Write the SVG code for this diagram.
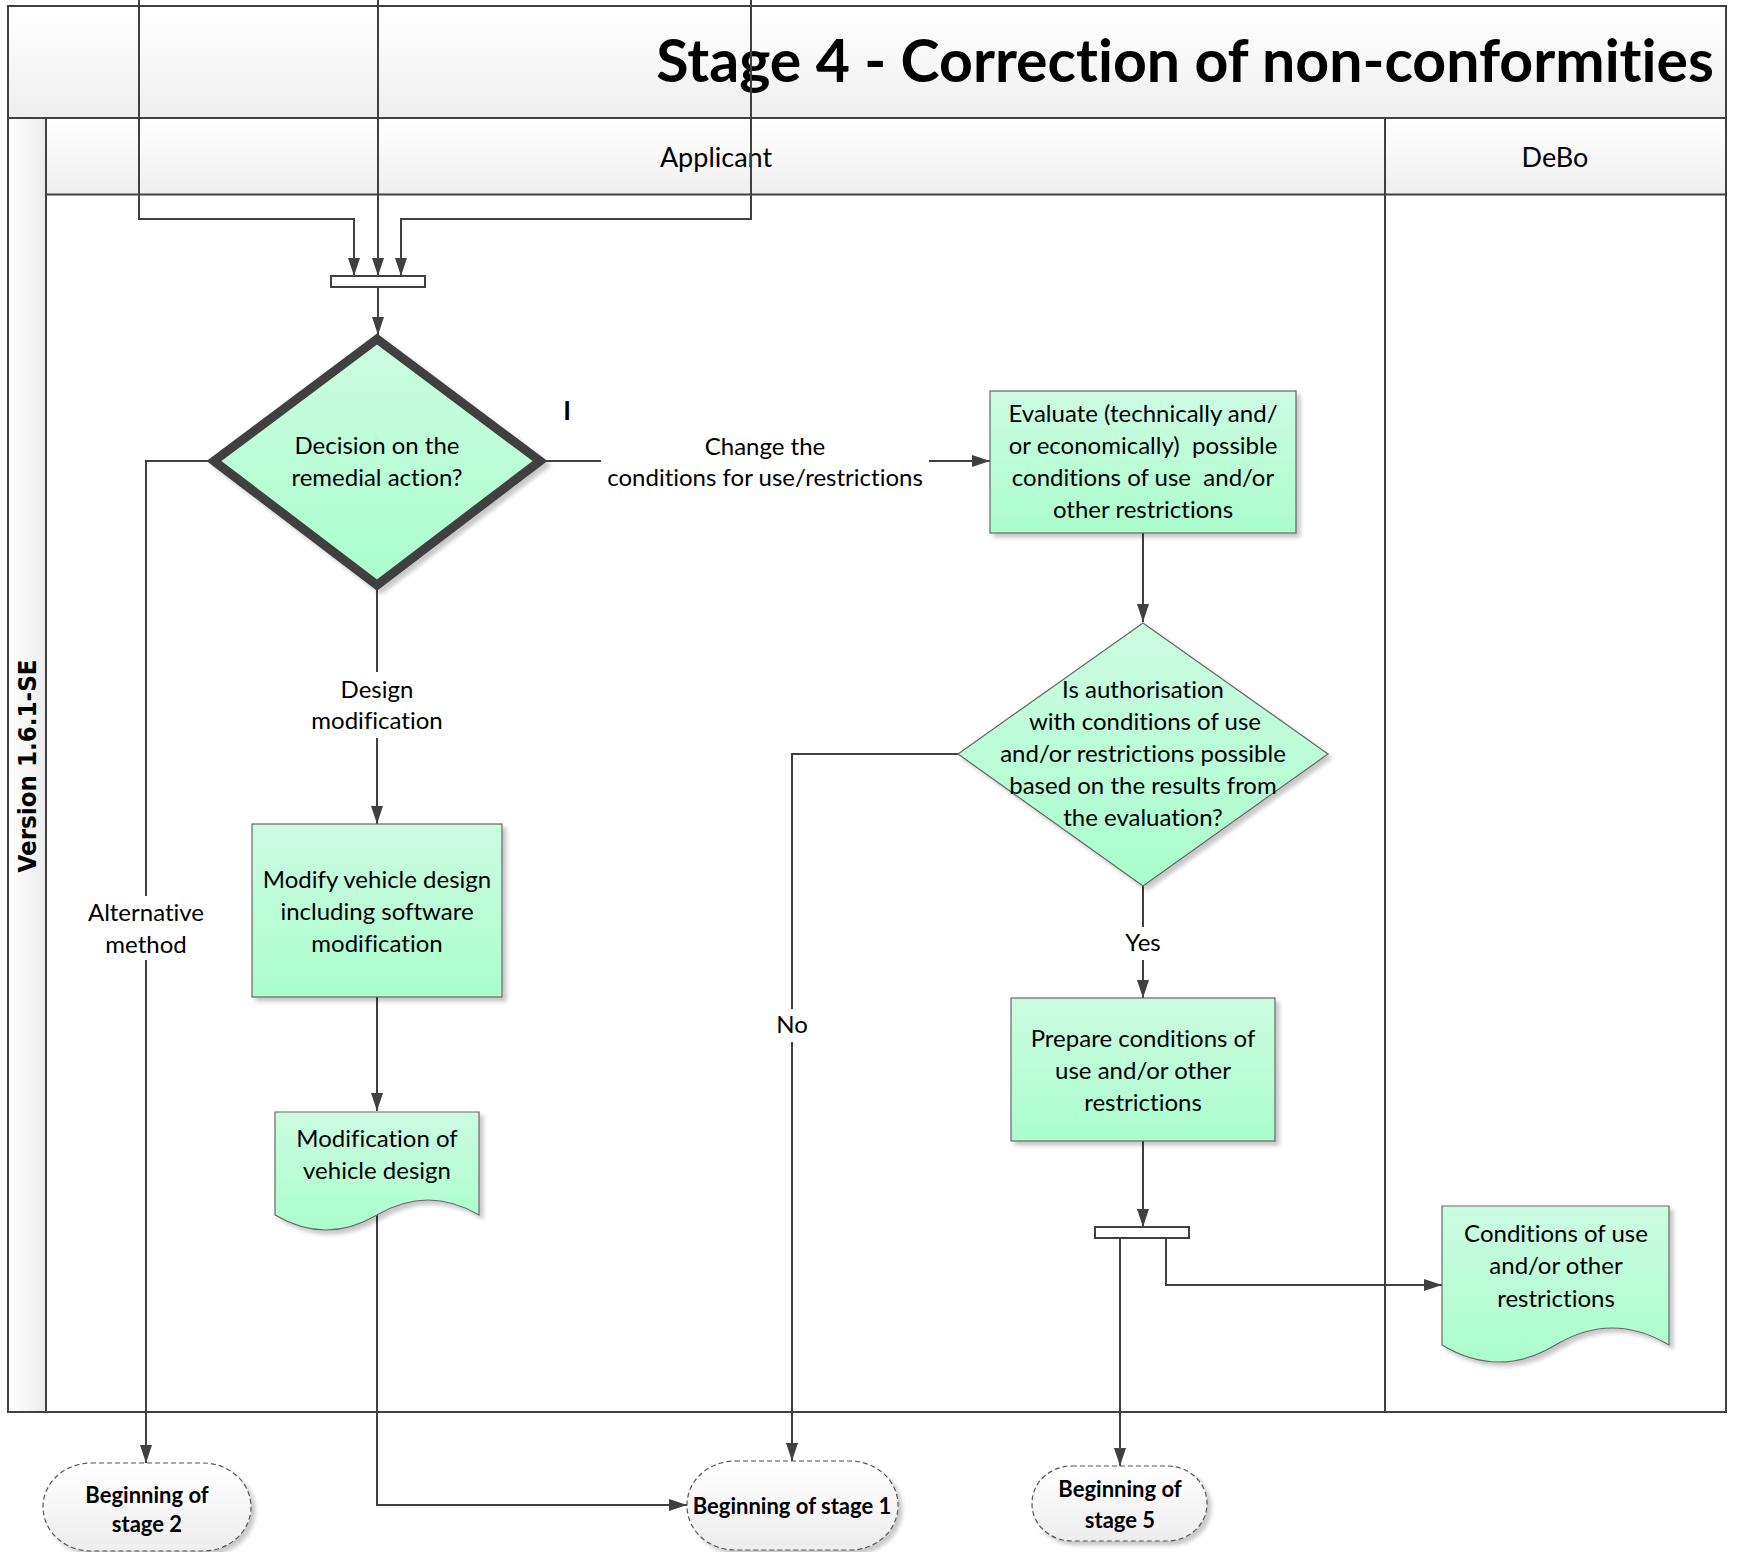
<svg xmlns="http://www.w3.org/2000/svg" width="1737" height="1552" viewBox="0 0 1737 1552">
<defs>
<linearGradient id="gBand" x1="0" y1="0" x2="0" y2="1"><stop offset="0" stop-color="#ffffff"/><stop offset="1" stop-color="#efefef"/></linearGradient>
<linearGradient id="gSide" x1="0" y1="0" x2="1" y2="0"><stop offset="0" stop-color="#ffffff"/><stop offset="1" stop-color="#ececec"/></linearGradient>
<linearGradient id="gGreen" x1="0" y1="0" x2="0" y2="1"><stop offset="0" stop-color="#ccfbe2"/><stop offset="1" stop-color="#aafdcd"/></linearGradient>
<linearGradient id="gTerm" x1="0" y1="0" x2="0" y2="1"><stop offset="0" stop-color="#ffffff"/><stop offset="1" stop-color="#ededed"/></linearGradient>
<filter id="sh" x="-10%" y="-10%" width="125%" height="125%"><feGaussianBlur in="SourceAlpha" stdDeviation="2"/><feOffset dx="4" dy="4" result="b"/><feComponentTransfer><feFuncA type="linear" slope="0.22"/></feComponentTransfer><feMerge><feMergeNode/><feMergeNode in="SourceGraphic"/></feMerge></filter>
<marker id="ah" viewBox="0 0 18 12" refX="18" refY="6" markerWidth="18" markerHeight="12" orient="auto" markerUnits="userSpaceOnUse"><path d="M0,0 L18,6 L0,12 z" fill="#404040"/></marker>
</defs>
<style>
.lane{fill:none;stroke:#404040;stroke-width:2}
.box{fill:url(#gGreen);stroke:#666;stroke-width:1.2}
.term{fill:url(#gTerm);stroke:#555;stroke-width:1.2;stroke-dasharray:5 3}
.bar{fill:#fff;stroke:#404040;stroke-width:2}
.c{fill:none;stroke:#404040;stroke-width:2}
.a{marker-end:url(#ah)}
text{font-family:Lato,"Open Sans","DejaVu Sans",sans-serif;fill:#000;font-variant-ligatures:none;font-feature-settings:"liga" 0,"dlig" 0;white-space:pre}
.t{font-size:24px;text-anchor:middle}
.tb{font-size:22px;font-weight:bold;text-anchor:middle}
.hd{font-size:27px;text-anchor:middle}
</style>
<rect width="1737" height="1552" fill="#fff"/>
<g id="pool">
<rect x="8" y="6" width="1718" height="112" fill="url(#gBand)"/>
<rect x="8" y="118" width="38" height="1294" fill="url(#gSide)"/>
<rect x="46" y="118" width="1680" height="76.5" fill="url(#gBand)"/>
<rect class="lane" x="8" y="6" width="1718" height="1406"/>
<line class="lane" x1="8" y1="118" x2="1726" y2="118"/>
<line class="lane" x1="46" y1="118" x2="46" y2="1412"/>
<line class="lane" x1="46" y1="194.5" x2="1726" y2="194.5"/>
<line class="lane" x1="1385" y1="118" x2="1385" y2="1412"/>
<text x="1714" y="82" style="font-size:59px;font-weight:bold;text-anchor:end">Stage 4 - Correction of non-conformities</text>
<text class="hd" x="716" y="167">Applicant</text>
<text class="hd" x="1555" y="167">DeBo</text>
<text transform="translate(36,766) rotate(-90)" style="font-family:'DejaVu Sans',sans-serif;font-size:24px;font-weight:bold;text-anchor:middle" textLength="213" lengthAdjust="spacingAndGlyphs">Version 1.6.1-SE</text>
</g>
<g id="connectors">
<polyline class="c a" points="139,0 139,219 354,219 354,276"/>
<polyline class="c a" points="378,0 378,276"/>
<polyline class="c a" points="751,0 751,219 401,219 401,276"/>
<line class="c a" x1="378" y1="287" x2="378" y2="335"/>
<line class="c" x1="541" y1="461" x2="601" y2="461"/>
<line class="c a" x1="929" y1="461" x2="990" y2="461"/>
<line class="c" x1="377" y1="586" x2="377" y2="672"/>
<line class="c a" x1="377" y1="738" x2="377" y2="824"/>
<polyline class="c" points="213,461 146,461 146,896"/>
<line class="c a" x1="146" y1="960" x2="146" y2="1463"/>
<line class="c a" x1="377" y1="997" x2="377" y2="1111"/>
<polyline class="c a" points="377,1215 377,1505 687,1505"/>
<line class="c a" x1="1143" y1="533" x2="1143" y2="622"/>
<polyline class="c" points="958,754 792,754 792,1009"/>
<line class="c a" x1="792" y1="1042" x2="792" y2="1461"/>
<line class="c" x1="1143" y1="886" x2="1143" y2="927"/>
<line class="c a" x1="1143" y1="960" x2="1143" y2="998"/>
<line class="c a" x1="1143" y1="1141" x2="1143" y2="1227"/>
<line class="c a" x1="1120" y1="1238" x2="1120" y2="1466"/>
<polyline class="c a" points="1166,1238 1166,1285 1442,1285"/>
<text class="t" x="765" y="455">Change the</text>
<text class="t" x="765" y="486">conditions for use/restrictions</text>
<text x="567" y="420" style="font-size:26px;font-weight:bold;text-anchor:middle">I</text>
<text class="t" x="377" y="698">Design</text>
<text class="t" x="377" y="729">modification</text>
<text class="t" x="146" y="921">Alternative</text>
<text class="t" x="146" y="953">method</text>
<text class="t" x="792" y="1033">No</text>
<text class="t" x="1143" y="951">Yes</text>
</g>
<g id="bar1"><rect class="bar" x="331" y="276" width="94" height="11"/></g>
<g id="decision1">
<polygon points="377,339 540,461 377,585 214,461" fill="url(#gGreen)" stroke="#404040" stroke-width="9" stroke-linejoin="miter" filter="url(#sh)"/>
<text class="t" x="377" y="454">Decision on the</text>
<text class="t" x="377" y="486">remedial action?</text>
</g>
<g id="evaluate">
<rect class="box" x="990" y="391" width="306" height="142" filter="url(#sh)"/>
<text class="t" x="1143" y="422">Evaluate (technically and/</text>
<text class="t" x="1143" y="454">or economically)  possible</text>
<text class="t" x="1143" y="486">conditions of use  and/or</text>
<text class="t" x="1143" y="518">other restrictions</text>
</g>
<g id="decision2">
<polygon class="box" points="1143,623 1328,754 1143,886 958,754" filter="url(#sh)"/>
<text class="t" x="1143" y="698">Is authorisation</text>
<text class="t" x="1145" y="730">with conditions of use</text>
<text class="t" x="1143" y="762">and/or restrictions possible</text>
<text class="t" x="1143" y="794">based on the results from</text>
<text class="t" x="1143" y="826">the evaluation?</text>
</g>
<g id="modify">
<rect class="box" x="252" y="824" width="250" height="173" filter="url(#sh)"/>
<text class="t" x="377" y="888">Modify vehicle design</text>
<text class="t" x="377" y="920">including software</text>
<text class="t" x="377" y="952">modification</text>
</g>
<g id="modification-doc">
<path class="box" d="M275,1112 H479 V1215 Q428,1185 377,1215 T275,1215 Z" filter="url(#sh)"/>
<text class="t" x="377" y="1147">Modification of</text>
<text class="t" x="377" y="1179">vehicle design</text>
</g>
<g id="prepare">
<rect class="box" x="1011" y="998" width="264" height="143" filter="url(#sh)"/>
<text class="t" x="1143" y="1047">Prepare conditions of</text>
<text class="t" x="1143" y="1079">use and/or other</text>
<text class="t" x="1143" y="1111">restrictions</text>
</g>
<g id="bar2"><rect class="bar" x="1095" y="1227" width="94" height="11"/></g>
<g id="conditions-doc">
<path class="box" d="M1442,1206 H1669 V1345 Q1612,1311 1555.5,1345 T1442,1345 Z" filter="url(#sh)"/>
<text class="t" x="1556" y="1242">Conditions of use</text>
<text class="t" x="1556" y="1274">and/or other</text>
<text class="t" x="1556" y="1307">restrictions</text>
</g>
<g id="stage2">
<rect class="term" x="43" y="1463" width="208" height="88" rx="48" ry="44" filter="url(#sh)"/>
<text class="tb" x="147" y="1503">Beginning of</text>
<text class="tb" x="147" y="1532">stage 2</text>
</g>
<g id="stage1">
<rect class="term" x="687" y="1461" width="211" height="89" rx="48" ry="44" filter="url(#sh)"/>
<text class="tb" x="792" y="1514">Beginning of stage 1</text>
</g>
<g id="stage5">
<rect class="term" x="1032" y="1466" width="175" height="75" rx="40" ry="37" filter="url(#sh)"/>
<text class="tb" x="1120" y="1497">Beginning of</text>
<text class="tb" x="1120" y="1528">stage 5</text>
</g>
</svg>
